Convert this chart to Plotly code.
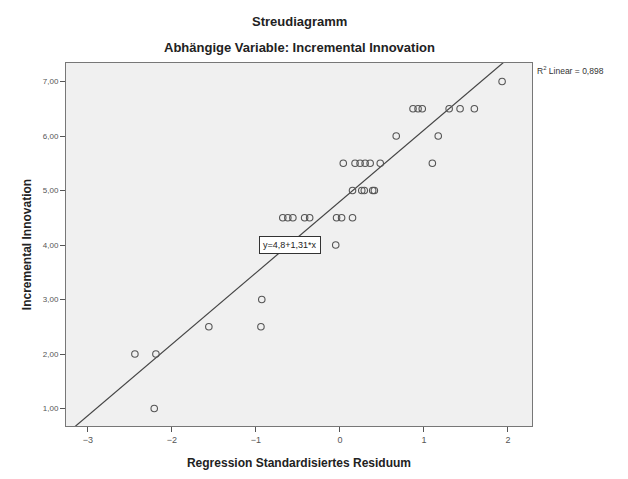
import plotly.graph_objects as go

# Data (x = standardized residual, y = Incremental Innovation)
x_vals = [1.93,
          0.87, 0.93, 0.98, 1.30, 1.43, 1.60,
          0.67, 1.17,
          0.04, 0.18, 0.24, 0.30, 0.36, 0.48, 1.10,
          0.15, 0.26, 0.29, 0.39, 0.41,
          -0.68, -0.62, -0.56, -0.42, -0.36, -0.04, 0.02, 0.15,
          -0.05,
          -0.93,
          -1.56, -0.94,
          -2.44, -2.19,
          -2.21]
y_vals = [7.0,
          6.5, 6.5, 6.5, 6.5, 6.5, 6.5,
          6.0, 6.0,
          5.5, 5.5, 5.5, 5.5, 5.5, 5.5, 5.5,
          5.0, 5.0, 5.0, 5.0, 5.0,
          4.5, 4.5, 4.5, 4.5, 4.5, 4.5, 4.5, 4.5,
          4.0,
          3.0,
          2.5, 2.5,
          2.0, 2.0,
          1.0]

intercept = 4.8
slope = 1.31
r2_text = "R<sup>2</sup> Linear = 0,898"
eq_text = "y=4,8+1,31*x"
title_text = "Streudiagramm"
subtitle_text = "Abhängige Variable: Incremental Innovation"

x_range = [-3.26, 2.286]
y_range = [0.68, 7.34]
x_ticks = [-3, -2, -1, 0, 1, 2]
y_ticks = [1, 2, 3, 4, 5, 6, 7]
y_ticktext = ["1,00", "2,00", "3,00", "4,00", "5,00", "6,00", "7,00"]

font_family = "Liberation Sans, Arial, sans-serif"
W, H = 628, 479
L, R, T, B = 66, 96, 63, 44
pw, ph = W - L - R, H - T - B


def px_x(p):
    return (p - L) / pw


def px_y(p):
    return (H - B - p) / ph


fig = go.Figure()
line_x = [x_range[0] - 0.5, x_range[1] + 0.5]
line_y = [intercept + slope * v for v in line_x]
fig.add_trace(go.Scatter(x=line_x, y=line_y, mode="lines",
                         line=dict(color="#444444", width=1.2),
                         showlegend=False, hoverinfo="skip"))
fig.add_trace(go.Scatter(x=x_vals, y=y_vals, mode="markers",
                         marker=dict(symbol="circle-open", size=6.5,
                                     color="#555555", line=dict(width=1.1)),
                         showlegend=False))

fig.add_annotation(x=-0.60, y=4.0, xref="x", yref="y", text=eq_text,
                   showarrow=False, font=dict(family=font_family, size=9, color="#222222"),
                   bgcolor="white", bordercolor="#333333", borderwidth=1, borderpad=3)
fig.add_annotation(x=px_x(535), y=px_y(71), xref="paper", yref="paper", text=r2_text,
                   showarrow=False, xanchor="left", yanchor="middle",
                   font=dict(family=font_family, size=8.5, color="#333333"))
fig.add_annotation(x=px_x(299), y=px_y(20), xref="paper", yref="paper", text="<b>" + title_text + "</b>",
                   showarrow=False, xanchor="center", yanchor="middle",
                   font=dict(family=font_family, size=13, color="#222222"))
fig.add_annotation(x=px_x(299), y=px_y(47), xref="paper", yref="paper", text="<b>" + subtitle_text + "</b>",
                   showarrow=False, xanchor="center", yanchor="middle",
                   font=dict(family=font_family, size=13, color="#222222"))

fig.update_layout(
    width=W, height=H,
    margin=dict(l=L, r=R, t=T, b=B),
    paper_bgcolor="white", plot_bgcolor="#F0F0F0",
    font=dict(family=font_family),
)

fig.update_xaxes(range=x_range, tickvals=x_ticks, ticks="outside", ticklen=5,
                 tickcolor="#555555", showgrid=False, zeroline=False,
                 showline=True, linecolor="#777777", linewidth=1, mirror=True,
                 tickfont=dict(size=9, color="#555555"),
                 title=dict(text="<b>Regression Standardisiertes Residuum</b>",
                            font=dict(size=12, color="#222222"), standoff=14))
fig.update_yaxes(range=y_range, tickvals=y_ticks, ticktext=y_ticktext, ticks="outside",
                 ticklen=5, tickcolor="#555555", showgrid=False, zeroline=False,
                 showline=True, linecolor="#777777", linewidth=1, mirror=True,
                 tickfont=dict(size=8, color="#555555"),
                 title=dict(text="<b>Incremental Innovation</b>",
                            font=dict(size=12, color="#222222"), standoff=8))

fig.write_html("out.html")
